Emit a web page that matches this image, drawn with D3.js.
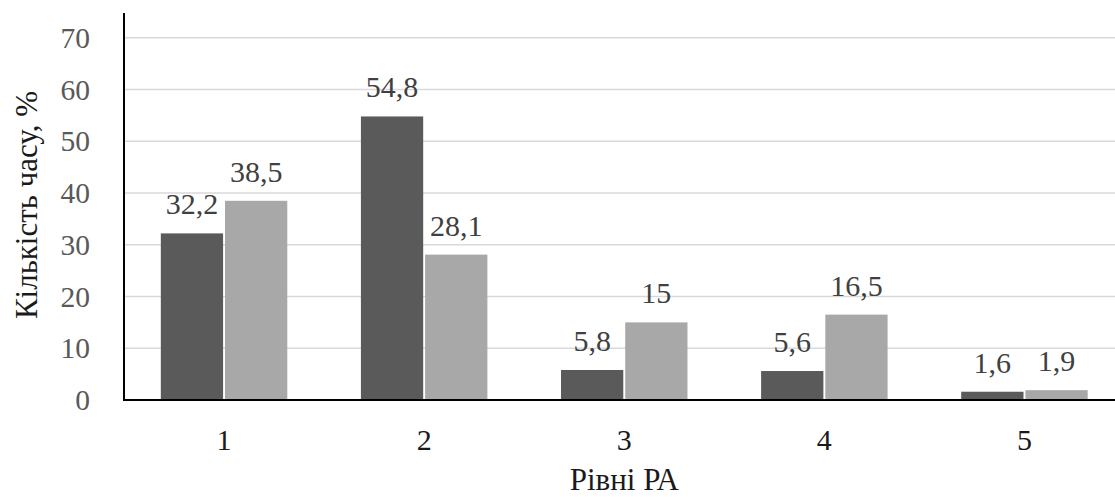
<!DOCTYPE html>
<html><head><meta charset="utf-8"><script src="https://cdn.jsdelivr.net/npm/d3@7"></script></head>
<body style="margin:0">
<svg id="s" width="1115" height="497"></svg>
<script>
const categories = ["1", "2", "3", "4", "5"];
const series = ["A", "B"];
const valuesA = [32.2, 54.8, 5.8, 5.6, 1.6];
const valuesB = [38.5, 28.1, 15, 16.5, 1.9];
const labelsA = ["32,2", "54,8", "5,8", "5,6", "1,6"];
const labelsB = ["38,5", "28,1", "15", "16,5", "1,9"];
const yTicks = [0, 10, 20, 30, 40, 50, 60, 70];
const xTitle = "Рівні РА";
const yTitle = "Кількість часу, %";

const svg = d3.select("#s");
const FF = '"Liberation Serif"';
const mLeft = 124, mRight = 1124.5, mTop = 13, mBottom = 400;

const x0 = d3.scaleBand().domain(categories).range([mLeft, mRight]).padding(0);
const bw = x0.bandwidth();
const x1 = d3.scaleBand().domain(series).range([bw * 0.184, bw * 0.816]).paddingInner(0.03);
const y = d3.scaleLinear().domain([0, 70]).range([mBottom, 37.8]);

svg.append("g").selectAll("line").data(yTicks.filter(d => d > 0)).join("line")
  .attr("x1", mLeft).attr("x2", 1115)
  .attr("y1", d => y(d)).attr("y2", d => y(d))
  .attr("stroke", "#d9d9d9").attr("stroke-width", 1.5);

svg.append("g").selectAll("text").data(yTicks).join("text")
  .attr("x", 90).attr("y", d => y(d) + 10)
  .attr("text-anchor", "end")
  .attr("font-size", 29.5)
  .style("font-family", FF)
  .attr("fill", "#595959")
  .text(d => d);

const rows = categories.map((c, i) => ({
  c,
  vals: [
    { s: "A", v: valuesA[i], l: labelsA[i] },
    { s: "B", v: valuesB[i], l: labelsB[i] }
  ]
}));
const colors = { A: "#5a5a5a", B: "#a8a8a8" };

const g = svg.append("g").selectAll("g").data(rows).join("g")
  .attr("transform", d => `translate(${x0(d.c)},0)`);

g.selectAll("rect").data(d => d.vals).join("rect")
  .attr("x", d => x1(d.s)).attr("width", x1.bandwidth())
  .attr("y", d => y(d.v)).attr("height", d => y(0) - y(d.v))
  .attr("fill", d => colors[d.s]);

g.selectAll("text").data(d => d.vals).join("text")
  .attr("x", d => x1(d.s) + x1.bandwidth() / 2)
  .attr("y", d => y(d.v) - 19)
  .attr("text-anchor", "middle")
  .attr("font-size", 30)
  .style("font-family", FF)
  .attr("fill", "#404040")
  .text(d => d.l);

svg.append("line").attr("x1", mLeft).attr("x2", mLeft).attr("y1", mTop).attr("y2", mBottom + 1)
  .attr("stroke", "#000").attr("stroke-width", 2);
svg.append("line").attr("x1", mLeft - 1).attr("x2", 1115).attr("y1", mBottom).attr("y2", mBottom)
  .attr("stroke", "#000").attr("stroke-width", 2);

svg.append("g").selectAll("text").data(categories).join("text")
  .attr("x", d => x0(d) + bw / 2).attr("y", 450)
  .attr("text-anchor", "middle")
  .attr("font-size", 30)
  .style("font-family", FF)
  .attr("fill", "#1a1a1a")
  .text(d => d);

svg.append("text")
  .attr("x", (mLeft + mRight) / 2).attr("y", 490)
  .attr("text-anchor", "middle")
  .attr("font-size", 31)
  .style("font-family", FF)
  .attr("fill", "#1a1a1a")
  .text(xTitle);

svg.append("text")
  .attr("transform", "translate(37,205) rotate(-90)")
  .attr("text-anchor", "middle")
  .attr("font-size", 31)
  .style("font-family", FF)
  .attr("fill", "#1a1a1a")
  .text(yTitle);
</script>
</body>
</html>
